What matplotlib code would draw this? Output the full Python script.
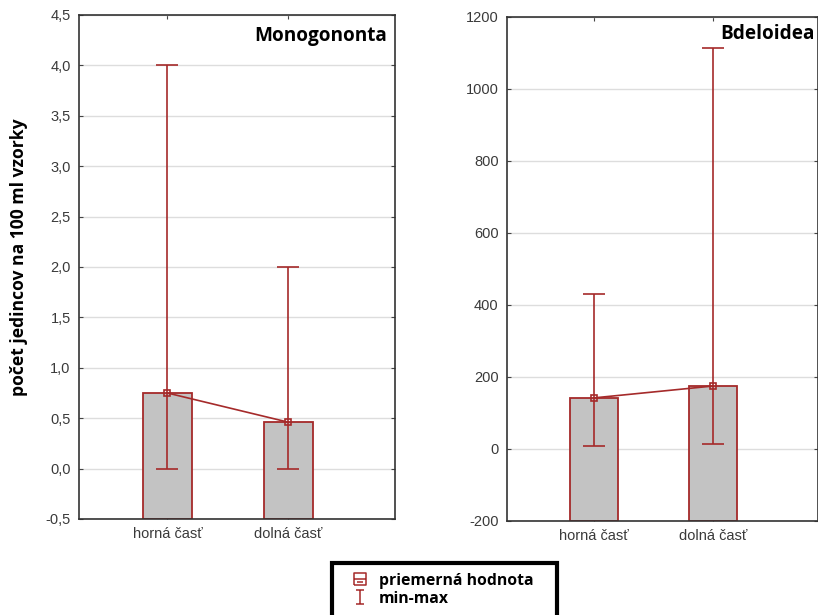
import matplotlib.pyplot as plt
from matplotlib.lines import Line2D
from matplotlib.path import Path
from matplotlib.patches import Rectangle
import numpy as np

categories = ['horná časť', 'dolná časť']

mono_mean = [0.75, 0.46]
mono_min = [0.0, 0.0]
mono_max = [4.0, 2.0]

bdel_mean = [142, 175]
bdel_min = [8, 14]
bdel_max = [430, 1114]

red = '#A52A2A'
plt.rcParams['font.family'] = ['Liberation Sans', 'DejaVu Sans']

fig = plt.figure(figsize=(8.18, 6.15), dpi=100)
ax1 = fig.add_axes([79/818, 96/615, 316/818, 504/615])
ax2 = fig.add_axes([507/818, 94/615, 311/818, 504/615])


def panel(ax, mean, lo, hi, ylim, yticks, ylabels, title, tx, ty):
    x = np.arange(len(categories))
    ax.set_ylim(*ylim)
    ax.set_xlim(-0.73, 1.88)
    base = ylim[0]
    ax.bar(x, np.array(mean) - base, bottom=base, width=0.40,
           color='#C3C3C3', edgecolor=red, linewidth=1.3, zorder=2)
    err = [np.array(mean) - np.array(lo), np.array(hi) - np.array(mean)]
    ax.errorbar(x, mean, yerr=err, fmt='none', ecolor=red, elinewidth=1.2,
                capsize=8, capthick=1.2, zorder=3)
    ax.plot(x, mean, color=red, lw=1.2, marker='s', ms=5, mfc='none',
            mec=red, mew=1.2, zorder=4)
    ax.set_xticks(x)
    ax.set_xticklabels(categories, fontsize=10.5, color='#3a3a3a')
    ax.set_yticks(yticks)
    ax.set_yticklabels(ylabels, fontsize=10.5, color='#3a3a3a')
    ax.yaxis.grid(True, color='#DDDDDD', lw=1, zorder=0)
    ax.set_axisbelow(True)
    ax.tick_params(axis='both', direction='in', length=3, top=True, right=True,
                   color='#444444', pad=6)
    for s in ax.spines.values():
        s.set_color('#333333')
        s.set_linewidth(1.2)
    ax.text(tx, ty, title, transform=ax.transAxes, ha='right', va='center',
            fontsize=13.7, fontweight='bold', family='Open Sans')


mono_ticks = np.arange(-0.5, 4.51, 0.5)
panel(ax1, mono_mean, mono_min, mono_max, (-0.5, 4.5), mono_ticks,
      [f'{t:.1f}'.replace('.', ',') for t in mono_ticks], 'Monogononta',
      0.975, 0.958)
bdel_ticks = np.arange(-200, 1201, 200)
panel(ax2, bdel_mean, bdel_min, bdel_max, (-200, 1200), bdel_ticks,
      [str(t) for t in bdel_ticks], 'Bdeloidea', 0.99, 0.966)

ax1.set_ylabel('počet jedincov na 100 ml vzorky', fontsize=12.6,
               fontweight='bold', family='Open Sans')
ax1.yaxis.set_label_coords(-0.16, 0.52)

# legend glyphs
sq_mark = Path([(-1, -1), (1, -1), (1, 1), (-1, 1), (-1, -1),
                (-1, 0), (1, 0), (-0.5, -0.5), (0.5, -0.5)],
               [Path.MOVETO, Path.LINETO, Path.LINETO, Path.LINETO, Path.LINETO,
                Path.MOVETO, Path.LINETO, Path.MOVETO, Path.LINETO])
ibeam = Path([(-0.6, -1), (0.6, -1), (0, -1), (0, 1), (-0.6, 1), (0.6, 1)],
             [Path.MOVETO, Path.LINETO, Path.MOVETO, Path.LINETO,
              Path.MOVETO, Path.LINETO])
handles = [
    Line2D([], [], color=red, marker=sq_mark, ms=8, mfc='none', mew=1.1, lw=0),
    Line2D([], [], color=red, marker=ibeam, ms=10, mfc='none', mew=1.1, lw=0),
]
leg = fig.legend(handles, ['priemerná hodnota', 'min-max'],
                 loc='upper left', bbox_to_anchor=(338/818, 1 - 560/615),
                 frameon=False, borderpad=0.3, handlelength=1.2,
                 handletextpad=0.6, labelspacing=0.15,
                 prop={'family': 'Open Sans', 'weight': 'bold', 'size': 11.3})
fig.patches.append(Rectangle((332/818, -0.02), 225/818, (615 - 563)/615 + 0.02,
                             transform=fig.transFigure, fill=False,
                             edgecolor='black', linewidth=3))

fig.savefig('out.png', dpi=100)
